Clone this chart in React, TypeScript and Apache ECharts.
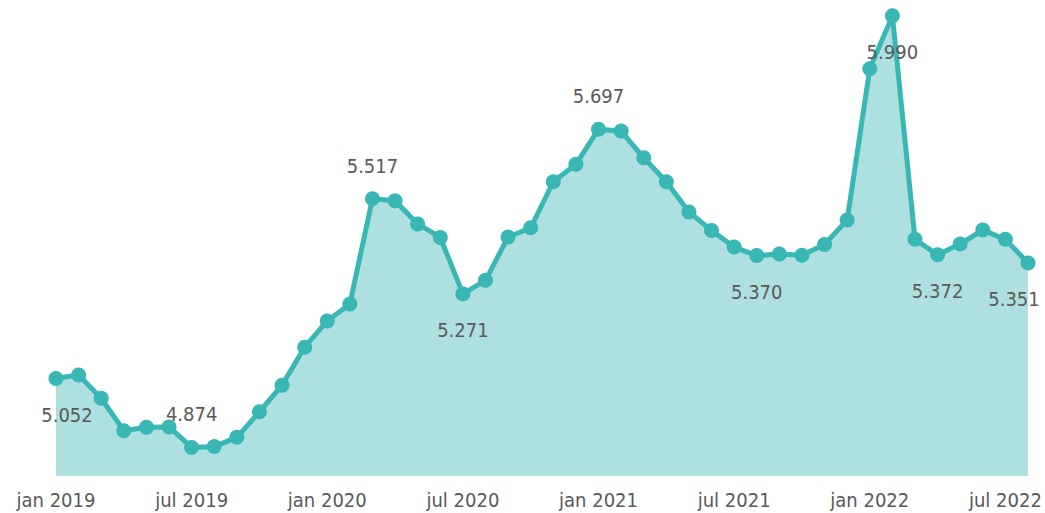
import React, { useEffect, useRef } from "react";
import * as echarts from "echarts";

const monthNames = ["jan", "feb", "mar", "apr", "may", "jun", "jul", "aug", "sep", "oct", "nov", "dec"];
const years = [2019, 2020, 2021, 2022];
const categories: string[] = years.flatMap((y) => monthNames.map((m) => `${m} ${y}`)).slice(0, 44);

const values: number[] = [
  // 2019
  5.052, 5.061, 5.001, 4.917, 4.926, 4.927, 4.874, 4.876, 4.900, 4.966, 5.035, 5.133,
  // 2020
  5.201, 5.245, 5.517, 5.512, 5.452, 5.417, 5.271, 5.306, 5.418, 5.442, 5.561, 5.606,
  // 2021
  5.697, 5.692, 5.623, 5.561, 5.483, 5.435, 5.392, 5.370, 5.374, 5.371, 5.399, 5.462,
  // 2022
  5.853, 5.990, 5.412, 5.372, 5.400, 5.436, 5.412, 5.351,
];

// indices of points that carry a data label
const labelledAbove: number[] = [6, 14, 24];
const labelledBelow: number[] = [0, 18, 31, 37, 39, 43];

const LINE = "#38b7b5";
const FILL = "#aee0e0";
const TEXT = "#595959";
const FONT = "DejaVu Sans Condensed";

export default function App() {
  const ref = useRef<HTMLDivElement>(null);
  useEffect(() => {
    if (!ref.current) return;
    const chart = echarts.init(ref.current, undefined, { renderer: "svg" });
    const data = values.map((v, i) => {
      let label: any = { show: false };
      if (labelledAbove.includes(i) || labelledBelow.includes(i)) {
        const above = labelledAbove.includes(i);
        let dx = 0;
        if (i === 0) dx = 11;
        if (i === values.length - 1) dx = -14;
        label = {
          show: true,
          position: "inside",
          offset: [dx, above ? -33 : 36],
          formatter: () => v.toFixed(3),
          color: TEXT,
          fontFamily: FONT,
          fontSize: 20,
        };
      }
      return { value: v, label };
    });
    chart.setOption({
      animation: false,
      grid: { left: 56, right: 17, top: 12, bottom: 37, containLabel: false },
      xAxis: {
        type: "category",
        data: categories,
        boundaryGap: false,
        axisLine: { show: false },
        axisTick: { show: false },
        splitLine: { show: false },
        axisLabel: {
          interval: 5,
          color: TEXT,
          fontFamily: FONT,
          fontSize: 20,
          margin: 14,
        },
      },
      yAxis: {
        type: "value",
        min: 4.8,
        max: 6.0,
        show: false,
        splitLine: { show: false },
      },
      series: [
        {
          type: "line",
          data,
          symbol: "circle",
          symbolSize: 15,
          showSymbol: true,
          showAllSymbol: true,
          lineStyle: { color: LINE, width: 5 },
          itemStyle: { color: LINE },
          areaStyle: { color: FILL, opacity: 1 },
          z: 2,
        },
      ],
    });
    return () => chart.dispose();
  }, []);
  return (
    <div
      ref={ref}
      style={{ position: "fixed", left: 0, top: 0, width: 1045, height: 513, background: "#fff" }}
    />
  );
}
